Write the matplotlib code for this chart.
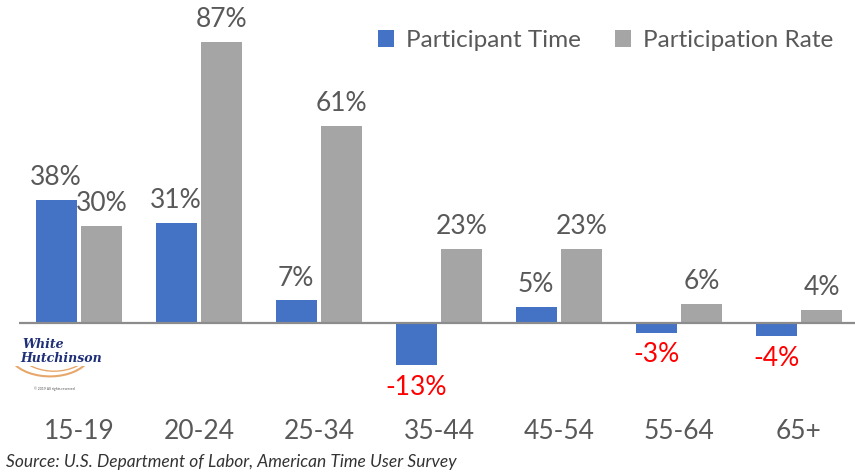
import matplotlib.pyplot as plt
import numpy as np
from matplotlib.patches import Arc

# age groups and percentage change for each series
age_groups = ["15-19", "20-24", "25-34", "35-44", "45-54", "55-64", "65+"]
participant_time = [38, 31, 7, -13, 5, -3, -4]
participation_rate = [30, 87, 61, 23, 23, 6, 4]

BLUE = "#4472C4"
GREY = "#A5A5A5"
TEXT = "#595959"

plt.rcParams['font.family'] = ['Lato', 'DejaVu Sans']

fig = plt.figure(figsize=(8.55, 4.73), dpi=100)
ax = fig.add_axes([19 / 855, 65 / 473, 840 / 855, 392 / 473])

x = np.arange(len(age_groups))
w = 0.342
off = 0.19
b1 = ax.bar(x - off, participant_time, w, color=BLUE, label="Participant Time")
b2 = ax.bar(x + off, participation_rate, w, color=GREY, label="Participation Rate")

# value labels, negatives in red below the bar
for bars, vals in ((b1, participant_time), (b2, participation_rate)):
    for r, v in zip(bars, vals):
        cx = r.get_x() + r.get_width() / 2
        if v >= 0:
            ax.annotate(f"{v}%", (cx, v), xytext=(0, 7), textcoords="offset points",
                        ha="center", va="bottom", fontsize=19, color=TEXT)
        else:
            ax.annotate(f"{v}%", (cx, v), xytext=(0, -7), textcoords="offset points",
                        ha="center", va="top", fontsize=19, color="#FF0000")

ax.axhline(0, color="#8C8C8C", lw=1.6, zorder=3)
ax.set_xlim(-0.5, 6.5)
ax.set_ylim(-26.3, 95)
ax.set_xticks(x, age_groups)
ax.tick_params(axis="x", length=0, pad=8, labelsize=19, labelcolor=TEXT)
ax.set_yticks([])
for s in ax.spines.values():
    s.set_visible(False)

leg = ax.legend(loc="upper right", bbox_to_anchor=(0.995, 1.02), ncol=2, frameon=False,
                fontsize=17.5, handlelength=0.65, handleheight=0.65, handletextpad=0.5,
                columnspacing=1.4)
for t in leg.get_texts():
    t.set_color(TEXT)

fig.text(6 / 855, 1 - 462 / 473, "Source: U.S. Department of Labor, American Time User Survey",
         fontsize=12.5, style="italic", color="#333333", va="center", ha="left")

# small company logo
fig.text(22 / 855, 1 - 344 / 473, "White", fontsize=9, fontweight="bold", style="italic",
         color="#1F2F78", family="DejaVu Serif", va="center")
fig.text(20 / 855, 1 - 358 / 473, "Hutchinson", fontsize=9, fontweight="bold", style="italic",
         color="#1F2F78", family="DejaVu Serif", va="center")
logo_ax = fig.add_axes([10 / 855, 1 - 392 / 473, 80 / 855, 26 / 473])
logo_ax.set_xlim(0, 1)
logo_ax.set_ylim(0, 1)
logo_ax.axis("off")
logo_ax.add_patch(Arc((0.5, 1.6), 1.05, 2.0, theta1=225, theta2=320, color="#E8A76A", lw=1.5))
logo_ax.add_patch(Arc((0.55, 1.9), 1.0, 2.2, theta1=230, theta2=315, color="#E8A76A", lw=1.0))
logo_ax.text(0.55, 0.08, "© 2019 All rights reserved", fontsize=2.5, color="#555555", ha="center")

fig.savefig("out.png", dpi=100)
